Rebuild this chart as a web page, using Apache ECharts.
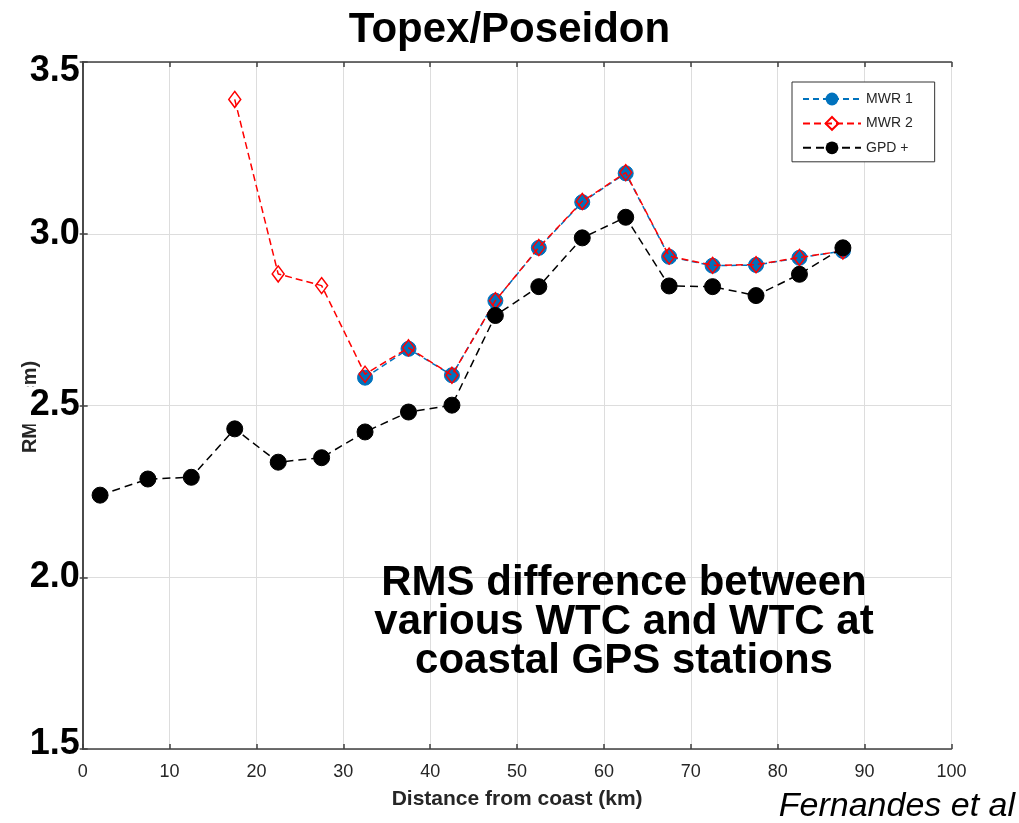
<!DOCTYPE html>
<html>
<head>
<meta charset="utf-8">
<script src="https://cdn.jsdelivr.net/npm/echarts@6/dist/echarts.min.js"></script>
<style>
html,body{margin:0;padding:0;background:#fff;}
#chart{width:1019px;height:823px;}
</style>
</head>
<body>
<div id="chart"></div>
<script>
// ---- data ----
const distanceKm = [2, 7.5, 12.5, 17.5, 22.5, 27.5, 32.5, 37.5, 42.5, 47.5, 52.5, 57.5, 62.5, 67.5, 72.5, 77.5, 82.5, 87.5];
const mwr1 = [null, null, null, null, null, null, 2.581, 2.665, 2.588, 2.805, 2.959, 3.092, 3.176, 2.933, 2.907, 2.909, 2.930, 2.950];
const mwr2 = [null, null, null, 3.391, 2.883, 2.849, 2.591, 2.668, 2.588, 2.805, 2.960, 3.094, 3.178, 2.935, 2.908, 2.910, 2.931, 2.950];
const gpdPlus = [2.239, 2.286, 2.291, 2.432, 2.335, 2.348, 2.423, 2.481, 2.501, 2.762, 2.846, 2.988, 3.048, 2.848, 2.846, 2.820, 2.882, 2.959];
const seriesNames = ['MWR 1', 'MWR 2', 'GPD +'];
const xTicks = { min: 0, max: 100, interval: 10 };
const yTicks = { min: 1.5, max: 3.5, interval: 0.5 };
const titleText = 'Topex/Poseidon';
const xAxisName = 'Distance from coast (km)';
const yAxisName = 'RMS (cm)';
const noteLines = ['RMS difference between', 'various WTC and WTC at', 'coastal GPS stations'];
const creditText = 'Fernandes et al';

function pairs(vals) {
  const out = [];
  vals.forEach((v, i) => { if (v !== null) out.push([distanceKm[i], v]); });
  return out;
}

const FONT = 'Liberation Sans, Arial, Helvetica, sans-serif';
const axisLineColor = '#404040';
const gridColor = '#dddddd';

const chart = echarts.init(document.getElementById('chart'), null, { renderer: 'canvas' });

const frameAxis = {
  axisLine: { show: true, lineStyle: { color: axisLineColor, width: 1.5 } },
  axisTick: { show: true, inside: true, length: 5, lineStyle: { color: axisLineColor, width: 1.5 } },
  axisLabel: { show: false },
  splitLine: { show: false }
};

const yLabelBase = { fontFamily: FONT, fontSize: 36, fontWeight: 'bold', color: '#000' };

chart.setOption({
  animation: false,
  backgroundColor: '#ffffff',
  title: {
    text: titleText,
    left: 'center',
    top: 4,
    textStyle: { fontFamily: FONT, fontSize: 42, fontWeight: 'bold', color: '#000' }
  },
  grid: { left: 82.7, top: 62, right: 67.5, bottom: 74, containLabel: false },
  legend: {
    orient: 'vertical',
    left: 792,
    top: 82,
    padding: [10, 22, 7, 10],
    itemWidth: 58,
    itemHeight: 16,
    itemGap: 10,
    borderColor: '#333',
    borderWidth: 1,
    borderRadius: 0,
    backgroundColor: '#fff',
    textStyle: { fontFamily: FONT, fontSize: 14, color: '#262626' },
    data: seriesNames
  },
  xAxis: [
    {
      type: 'value',
      min: xTicks.min, max: xTicks.max, interval: xTicks.interval,
      position: 'bottom',
      name: xAxisName,
      nameLocation: 'middle',
      nameGap: 40,
      nameTextStyle: { fontFamily: FONT, fontSize: 21, fontWeight: 'bold', color: '#262626' },
      axisLine: { show: true, onZero: false, lineStyle: { color: axisLineColor, width: 1.5 } },
      axisTick: { show: true, inside: true, length: 5, lineStyle: { color: axisLineColor, width: 1.5 } },
      axisLabel: { show: true, margin: 14, fontFamily: FONT, fontSize: 18, color: '#262626' },
      splitLine: { show: true, lineStyle: { color: gridColor, width: 1 } }
    },
    Object.assign({ type: 'value', min: xTicks.min, max: xTicks.max, interval: xTicks.interval, position: 'top' }, frameAxis)
  ],
  yAxis: [
    {
      type: 'value',
      min: yTicks.min, max: yTicks.max, interval: yTicks.interval,
      position: 'left',
      axisLine: { show: true, onZero: false, lineStyle: { color: axisLineColor, width: 1.5 } },
      axisTick: { show: true, inside: true, length: 5, lineStyle: { color: axisLineColor, width: 1.5 } },
      axisLabel: {
        show: true, margin: 3,
        fontFamily: FONT, fontSize: 36, fontWeight: 'bold', color: '#000',
        backgroundColor: '#fff', padding: [1, 0, 1, 16],
        formatter: v => {
          const s = v.toFixed(1);
          if (v === yTicks.max) return '{top|' + s + '}';
          if (v === yTicks.min) return '{bot|' + s + '}';
          return '{mid|' + s + '}';
        },
        rich: {
          top: Object.assign({ padding: [18, 0, 0, 0] }, yLabelBase),
          bot: Object.assign({ padding: [0, 0, 10, 0] }, yLabelBase),
          mid: Object.assign({}, yLabelBase)
        }
      },
      splitLine: { show: true, lineStyle: { color: gridColor, width: 1 } }
    },
    Object.assign({ type: 'value', min: yTicks.min, max: yTicks.max, interval: yTicks.interval, position: 'right' }, frameAxis)
  ],
  graphic: [
    {
      type: 'text', z: -1,
      x: 30, y: 407, rotation: Math.PI / 2,
      style: { text: yAxisName, fontFamily: FONT, fontSize: 20, fontWeight: 'bold', fill: '#262626', align: 'center', verticalAlign: 'middle' }
    },
    {
      type: 'text', z: 10,
      x: 624, y: 622,
      style: { text: noteLines.join('\n'), fontFamily: FONT, fontSize: 42, fontWeight: 'bold', fill: '#000', align: 'center', verticalAlign: 'middle', lineHeight: 39 }
    },
    {
      type: 'text', z: 10,
      x: 1015, y: 807,
      style: { text: creditText, fontFamily: FONT, fontSize: 34, fontStyle: 'italic', fill: '#000', align: 'right', verticalAlign: 'middle' }
    }
  ],
  series: [
    {
      name: seriesNames[0], type: 'line', data: pairs(mwr1),
      symbol: 'circle', symbolSize: 15,
      lineStyle: { color: '#0072BD', width: 1.5, type: [6, 4] },
      itemStyle: { color: '#0072BD', borderColor: '#0072BD' },
      z: 2
    },
    {
      name: seriesNames[1], type: 'line', data: pairs(mwr2),
      symbol: 'diamond', symbolSize: [12, 16],
      lineStyle: { color: '#ff0000', width: 1.5, type: [7, 4] },
      itemStyle: { color: 'rgba(255,255,255,0)', borderColor: '#ff0000', borderWidth: 1.5 },
      z: 3
    },
    {
      name: seriesNames[2], type: 'line', data: pairs(gpdPlus),
      symbol: 'circle', symbolSize: 16,
      lineStyle: { color: '#000', width: 1.5, type: [8, 5] },
      itemStyle: { color: '#000', borderColor: '#000' },
      z: 4
    }
  ]
});
</script>
</body>
</html>
